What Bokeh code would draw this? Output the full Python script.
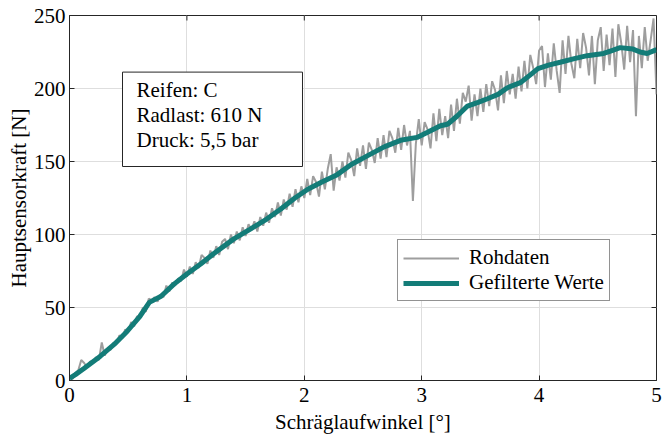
import math
from bokeh.plotting import figure
from bokeh.models import Legend, LegendItem, Label, Range1d, FixedTicker
from bokeh.embed import file_html
from bokeh.resources import INLINE

# ---------------- data ----------------
raw_x = [i * 0.025 for i in range(201)]
raw_y = [
    2, 1, 5, 7, 14, 12, 9, 13, 12, 16,
    14, 26, 17, 22, 21, 26, 25, 31, 29, 35,
    33, 40, 37, 44, 43, 50, 47, 56, 55, 57,
    54, 59, 57, 65, 61, 67, 65, 70, 68, 76,
    71, 78, 73, 81, 77, 86, 84, 80, 89, 84,
    92, 86, 95, 97, 90, 100, 94, 102, 96, 105,
    99, 107, 103, 109, 102, 112, 106, 115, 108, 118,
    112, 122, 113, 124, 117, 128, 119, 131, 122, 133,
    125, 138, 127, 140, 136, 126, 143, 131, 145, 155,
    130, 146, 137, 150, 139, 156, 151, 140, 159, 147,
    161, 145, 163, 158, 149, 166, 152, 168, 153, 171,
    166, 156, 173, 158, 175, 161, 171, 123, 162, 179,
    161, 177, 172, 159, 183, 164, 186, 168, 181, 166,
    189, 171, 193, 176, 197, 191, 202, 178, 196, 181,
    200, 184, 203, 188, 205, 199, 185, 209, 190, 212,
    196, 210, 193, 215, 198, 219, 200, 223, 214, 203,
    226, 229, 201, 224, 206, 231, 212, 197, 233, 210,
    236, 217, 207, 234, 214, 238, 228, 209, 236, 203,
    233, 242, 212, 237, 216, 241, 208, 244, 231, 213,
    243, 218, 240, 181, 236, 214, 242, 219, 233, 248,
    196,
]
filt_x = [0, 0.05, 0.12, 0.26, 0.38, 0.49, 0.60, 0.68, 0.78, 0.89, 1.0,
          1.12, 1.23, 1.40, 1.54, 1.68, 1.80, 1.92, 2.03, 2.15, 2.28,
          2.40, 2.54, 2.68, 2.82, 2.96, 3.05, 3.16, 3.22, 3.30, 3.39,
          3.48, 3.56, 3.65, 3.73, 3.84, 3.92, 3.99, 4.08, 4.18, 4.30,
          4.41, 4.55, 4.62, 4.69, 4.80, 4.86, 4.92, 5.0]
filt_y = [1.5, 4, 8, 16.5, 24.7, 33.6, 44, 53.5, 57.7, 66, 73,
          80, 87, 97, 103.7, 110.6, 117.5, 125, 131, 136, 141,
          148, 154, 160, 164.5, 166.5, 170, 174.5, 175.5, 181, 188,
          190.5, 193, 196, 200.5, 204, 209, 213.6, 216, 218, 220.5,
          222.5, 224, 226, 228, 227, 225, 224, 226.6]

x_ticks = [0, 1, 2, 3, 4, 5]
y_ticks = [0, 50, 100, 150, 200, 250]
info_lines = ["Reifen: C", "Radlast: 610 N", "Druck: 5,5 bar"]
legend_labels = ["Rohdaten", "Gefilterte Werte"]
x_label = "Schräglaufwinkel [°]"
y_label = "Hauptsensorkraft [N]"

FONT = "Liberation Serif"
FS = "21px"
INK = "#262626"
X_MIN, X_MAX = x_ticks[0], x_ticks[-1]
Y_MIN, Y_MAX = y_ticks[0], y_ticks[-1]

p = figure(width=662, height=435, output_backend="svg", toolbar_location=None,
           x_range=Range1d(X_MIN, X_MAX), y_range=Range1d(Y_MIN, Y_MAX),
           min_border_left=69, min_border_right=6, min_border_top=15,
           min_border_bottom=55, x_axis_label=x_label, y_axis_label=y_label)
p.frame_width = 587
p.frame_height = 365
p.outline_line_color = INK
p.outline_line_width = 1
p.background_fill_color = "white"
p.border_fill_color = "white"

for ax in (p.xaxis[0], p.yaxis[0]):
    ax.major_tick_in = 5
    ax.major_tick_out = 0
    ax.minor_tick_in = 0
    ax.minor_tick_out = 0
    ax.axis_line_color = INK
    ax.major_tick_line_color = INK
    ax.major_label_text_font = FONT
    ax.major_label_text_font_size = FS
    ax.major_label_text_color = "black"
    ax.axis_label_text_font = FONT
    ax.axis_label_text_font_size = FS
    ax.axis_label_text_font_style = "normal"
    ax.axis_label_text_color = "black"
p.xaxis[0].ticker = FixedTicker(ticks=x_ticks)
p.yaxis[0].ticker = FixedTicker(ticks=y_ticks)
p.xaxis[0].major_label_standoff = 7
p.yaxis[0].major_label_standoff = 4
p.xaxis[0].axis_label_standoff = 5
p.yaxis[0].axis_label_standoff = 0

p.xgrid.ticker = FixedTicker(ticks=x_ticks)
p.ygrid.ticker = FixedTicker(ticks=y_ticks)
p.grid.grid_line_color = "#dedede"
p.grid.grid_line_width = 1

# mirrored inward ticks on the top and right frame edges
p.ray(x=x_ticks, y=[Y_MAX] * len(x_ticks), length=5, length_units="screen",
      angle=-math.pi / 2, line_color=INK, line_width=1)
p.ray(x=[X_MAX] * len(y_ticks), y=y_ticks, length=5, length_units="screen",
      angle=math.pi, line_color=INK, line_width=1)

r_raw = p.line(raw_x, raw_y, line_color="#9e9e9e", line_width=2)
r_filt = p.line(filt_x, filt_y, line_color="#137c78", line_width=5)

legend = Legend(items=[LegendItem(label=legend_labels[0], renderers=[r_raw]),
                       LegendItem(label=legend_labels[1], renderers=[r_filt])],
                location=(328, 79))
legend.label_text_font = FONT
legend.label_text_font_size = FS
legend.label_text_color = "black"
legend.label_text_line_height = 1.0
legend.glyph_width = 56
legend.glyph_height = 20
legend.label_height = 20
legend.label_standoff = 10
legend.spacing = 0
legend.padding = 5
legend.margin = 0
legend.border_line_color = INK
legend.border_line_width = 1
legend.background_fill_color = "white"
legend.background_fill_alpha = 1
p.add_layout(legend, "center")

info = Label(x=122 - 69, y=380 - 166, x_units="screen", y_units="screen",
             text="\n".join(info_lines), text_font=FONT, text_font_size=FS,
             text_color="black", text_line_height=1.05,
             border_line_color=INK, border_line_width=1,
             background_fill_color="white",
             padding=dict(left=14, right=40, top=6, bottom=14))
p.add_layout(info)

with open("out.html", "w", encoding="utf-8") as f:
    f.write(file_html(p, INLINE))
